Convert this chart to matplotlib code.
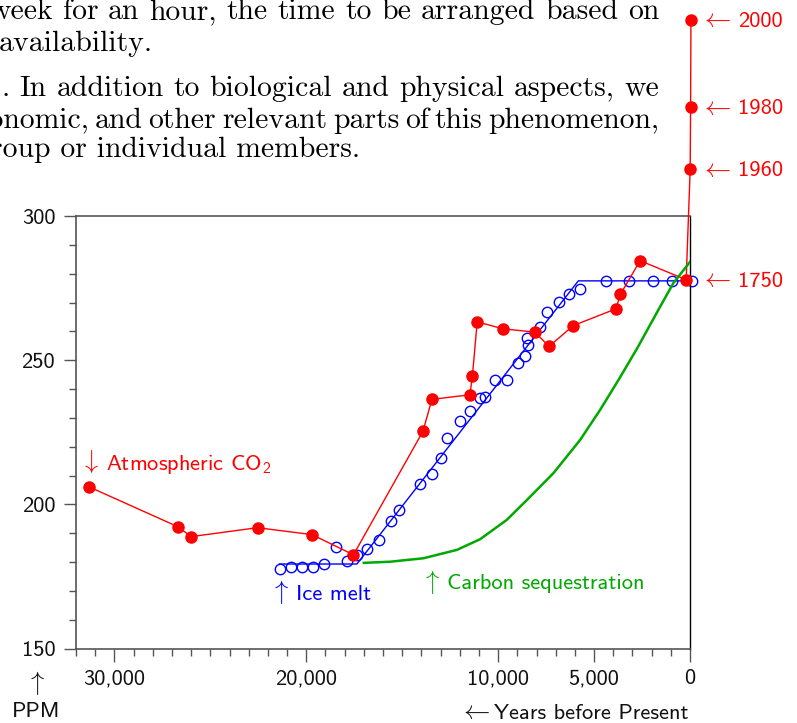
import matplotlib
matplotlib.use('Agg')
import matplotlib.pyplot as plt
import matplotlib.transforms as mtransforms
from matplotlib.ticker import FixedLocator, MultipleLocator

# ---- data ----
# atmospheric CO2 (filled red dots), years before present / ppm
co2_years = [31300, 26680, 26000, 22540, 19700, 17540, 13920, 13450, 11470, 11340,
             11090, 9760, 8090, 7340, 6080, 3860, 3630, 2600, 200, -10, -30, -50]
co2_ppm = [206.0, 192.2, 188.8, 191.9, 189.5, 182.5, 225.3, 236.4, 238.0, 244.6,
           263.3, 260.9, 259.7, 254.8, 262.0, 267.8, 272.8, 284.5, 277.9, 316.2, 337.8, 368.0]

# ice melt (open blue circles)
ice_years = [21390, 20800, 20220, 19670, 19100, 18450, 17880, 17360, 16810, 16200,
             15570, 15160, 14060, 13450, 12980, 12670, 11980, 11440, 10970, 10690,
             10170, 9520, 8970, 8580, 8450, 8490, 7810, 7450, 6820, 6300,
             5750, 4390, 3160, 1930, 920, -80]
ice_ppm = [177.6, 178.4, 178.3, 178.3, 179.3, 185.1, 180.3, 182.4, 184.5, 187.6,
           194.3, 198.0, 206.9, 210.5, 216.0, 222.9, 229.0, 232.5, 236.8, 237.3,
           243.1, 243.0, 248.9, 251.5, 255.3, 257.6, 261.6, 266.8, 270.3, 272.8,
           274.6, 277.5, 277.5, 277.5, 277.5, 277.5]

# ice melt trend (blue line)
trend_years = [21400, 17360, 5820, 0]
trend_ppm = [179.3, 179.3, 277.5, 277.5]

# carbon sequestration (green curve)
seq_years = [17000, 15620, 13890, 12150, 10940, 9550, 8500, 7120, 5730, 4690,
             3730, 2780, 1560, 870, 0]
seq_ppm = [179.7, 180.1, 181.3, 184.2, 187.9, 194.6, 201.5, 210.8, 222.3, 232.7,
           243.1, 253.8, 268.5, 276.7, 284.1]

# calendar years marked on the right
year_marks = ['2000', '1980', '1960', '1750']
year_marks_ppm = [368.0, 337.8, 316.2, 277.9]

x_ticks = [30000, 20000, 10000, 5000, 0]
x_tick_labels = ['30,000', '20,000', '10,000', '5,000', '0']
y_ticks = [150, 200, 250, 300]

# text of the page above the chart (cut at the edges)
page_lines = [
    'week for an hour, the time to be arranged based on',
    'availability.',
    '. In addition to biological and physical aspects, we',
    'economic, and other relevant parts of this phenomenon,',
    'group or individual members.',
]

RED = '#ff0000'
BLUE = '#0000ff'
GREEN = '#00a800'
GREY = '#555555'
FS = 16.2

plt.rcParams['font.family'] = ['cmss10', 'DejaVu Sans']
plt.rcParams['mathtext.fontset'] = 'custom'
plt.rcParams['mathtext.rm'] = 'cmss10'
plt.rcParams['mathtext.it'] = 'cmss10'
plt.rcParams['mathtext.bf'] = 'cmss10'
plt.rcParams['mathtext.sf'] = 'cmss10'
plt.rcParams['mathtext.fallback'] = 'cm'

W, H = 797, 723


def fx(px):
    return px / W


def fy(py):
    return 1 - py / H


fig = plt.figure(figsize=(W / 100, H / 100), dpi=100)
ax = fig.add_axes([fx(76), fy(648.5), fx(690) - fx(76), fy(216) - fy(648.5)])

ax.plot(trend_years, trend_ppm, color=BLUE, lw=1.0, zorder=2)
ax.plot(ice_years, ice_ppm, 'o', mfc='none', mec=BLUE, ms=7.5, mew=1.0,
        clip_on=False, zorder=2)
ax.plot(co2_years, co2_ppm, '-o', color=RED, lw=1.0, ms=8, clip_on=False, zorder=3)
ax.plot(seq_years, seq_ppm, color=GREEN, lw=1.8, zorder=4)

ax.set_xlim(32000, 0)
ax.set_ylim(150, 300)

ax.xaxis.set_major_locator(FixedLocator(x_ticks))
ax.set_xticklabels(x_tick_labels)
ax.xaxis.set_minor_locator(MultipleLocator(1000))
ax.yaxis.set_major_locator(FixedLocator(y_ticks))
ax.yaxis.set_minor_locator(MultipleLocator(10))

for side in ['left', 'bottom', 'top']:
    ax.spines[side].set_color(GREY)
    ax.spines[side].set_linewidth(1.2)
ax.spines['right'].set_color('black')
ax.spines['right'].set_linewidth(1.0)

ax.tick_params(which='major', length=9, width=1, color=GREY, labelsize=FS,
               labelcolor='#111111', pad=6)
ax.tick_params(which='minor', length=5, width=1, color=GREY)

# series labels
arrow_kw = dict(fontsize=19, math_fontfamily='cm', ha='center', va='center')
ax.text(31300, 214.7, r'$\downarrow$', color=RED, **arrow_kw)
ax.text(30420, 211.9, r'Atmospheric CO$_2$', color=RED, fontsize=FS, va='baseline')
ax.text(21390, 169.6, r'$\uparrow$', color=BLUE, **arrow_kw)
ax.text(20520, 166.8, 'Ice melt', color=BLUE, fontsize=FS, va='baseline')
ax.text(13500, 173.0, r'$\uparrow$', color=GREEN, **arrow_kw)
ax.text(12670, 170.6, 'Carbon sequestration', color=GREEN, fontsize=FS, va='baseline')

trans = mtransforms.blended_transform_factory(fig.transFigure, ax.transData)
for lab, val in zip(year_marks, year_marks_ppm):
    ax.text(fx(715.8), val, r'$\leftarrow$', color=RED, transform=trans,
            clip_on=False, **arrow_kw)
    ax.text(fx(738), val - 2.5, lab, color=RED, fontsize=FS, va='baseline',
            transform=trans, clip_on=False)

# axis captions
fig.text(fx(36), fy(683), r'$\uparrow$', color='#111111', **arrow_kw)
fig.text(fx(36), fy(717), 'PPM', color='#111111', fontsize=FS, ha='center', va='baseline')
fig.text(fx(475), fy(711.5), r'$\leftarrow$', color='#111111', **arrow_kw)
fig.text(fx(689), fy(719), 'Years before Present', color='#111111', fontsize=FS,
         ha='right', va='baseline')

# page text above the figure, justified lines like the typeset page
serif = dict(family='cmr10', fontsize=21.4, color='black', va='baseline')
renderer = fig.canvas.get_renderer()


def justify(line, left, right, base):
    words = line.split()
    texts = [fig.text(0, fy(base), w, **serif) for w in words]
    widths = [t.get_window_extent(renderer).width for t in texts]
    gap = (right - left - sum(widths)) / (len(words) - 1)
    x = left
    for t, w in zip(texts, widths):
        t.set_x(fx(x))
        x += w + gap


justify(page_lines[0], -11, 659.5, 19)
fig.text(fx(-1), fy(50.7), page_lines[1], ha='left', **serif)
justify(page_lines[2], 1.5, 659.5, 95.5)
justify(page_lines[3], -38, 659.5, 127.5)
fig.text(fx(360), fy(157), page_lines[4], ha='right', **serif)

fig.savefig('out.png', dpi=100)
